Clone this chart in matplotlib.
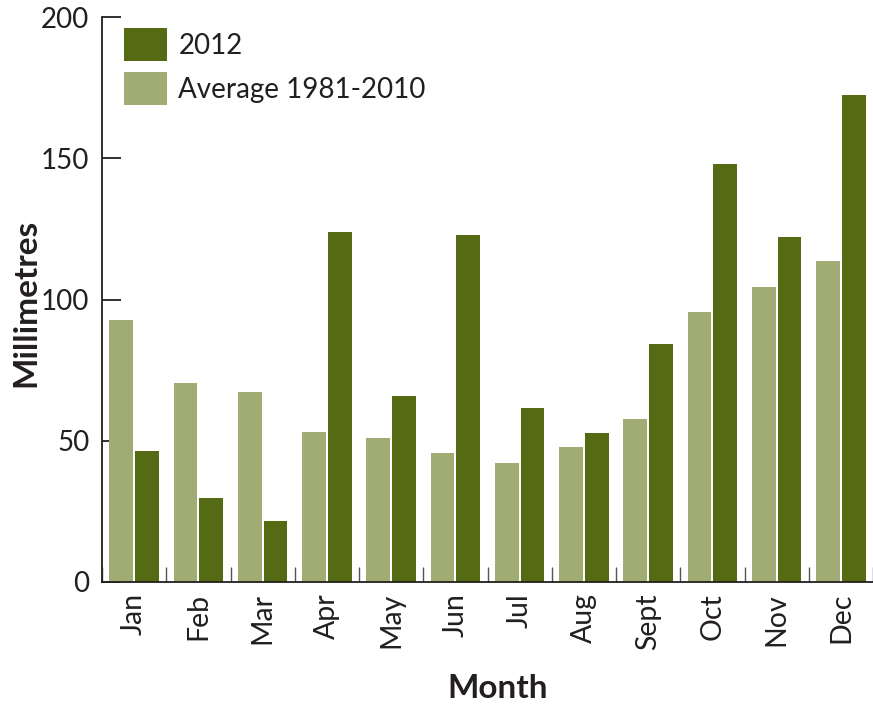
import numpy as np
import matplotlib
matplotlib.use("Agg")
import matplotlib.pyplot as plt
from matplotlib.ticker import FixedLocator

plt.rcParams['font.family'] = ['Lato', 'DejaVu Sans']

months = ["Jan", "Feb", "Mar", "Apr", "May", "Jun", "Jul", "Aug", "Sept", "Oct", "Nov", "Dec"]
rain_2012 = [46.5, 29.8, 21.6, 123.8, 66.0, 122.7, 61.7, 52.8, 84.4, 147.9, 122.3, 172.3]
rain_avg = [92.6, 70.6, 67.4, 53.2, 51.1, 45.7, 42.2, 47.9, 57.8, 95.4, 104.6, 113.5]
y_ticks = [0, 50, 100, 150, 200]

dark = "#556B13"
light = "#A0AC74"
ink = "#231F20"

W, H = 873, 705
fig = plt.figure(figsize=(W / 100, H / 100), dpi=100)
ax = fig.add_axes([102 / W, (H - 582) / H, 1 - 102 / W, (582 - 17) / H])

x = np.arange(len(months))
w = 0.37
ax.bar(x - 0.2, rain_avg, width=w, color=light, label="Average 1981-2010", zorder=2)
ax.bar(x + 0.2, rain_2012, width=w, color=dark, label="2012", zorder=2)

ax.set_xlim(-0.5, len(months) - 0.5)
ax.set_ylim(0, 200)

for s in ("top", "right"):
    ax.spines[s].set_visible(False)
for s in ("left", "bottom"):
    ax.spines[s].set_color(ink)
    ax.spines[s].set_linewidth(1.3)

ax.set_yticks(y_ticks)
ax.tick_params(axis="y", direction="in", length=14, width=1.3, color=ink,
               labelsize=20, labelcolor=ink, pad=9)

ax.set_xticks(x)
ax.set_xticklabels(months, rotation=90)
ax.tick_params(axis="x", which="major", length=0, labelsize=20.5, labelcolor=ink, pad=8)
ax.xaxis.set_minor_locator(FixedLocator(np.arange(len(months) + 1) - 0.5))
ax.tick_params(axis="x", which="minor", direction="in", length=11, width=1.0, color="#555555")

fig.text(26 / W, 1 - 303 / H, "Millimetres", rotation=90, ha="center", va="center",
         fontsize=24, fontweight="bold", color=ink)
fig.text(498 / W, 1 - 689 / H, "Month", ha="center", va="center",
         fontsize=24, fontweight="bold", color=ink)

handles, labels = ax.get_legend_handles_labels()
ax.legend(handles[::-1], labels[::-1], loc="upper left", bbox_to_anchor=(0.0, 1.0195),
          frameon=False, fontsize=20, handlelength=1.55, handleheight=1.45,
          handletextpad=0.4, labelspacing=0.4, borderaxespad=0.4,
          labelcolor=ink)

fig.savefig("out.png", dpi=100)
